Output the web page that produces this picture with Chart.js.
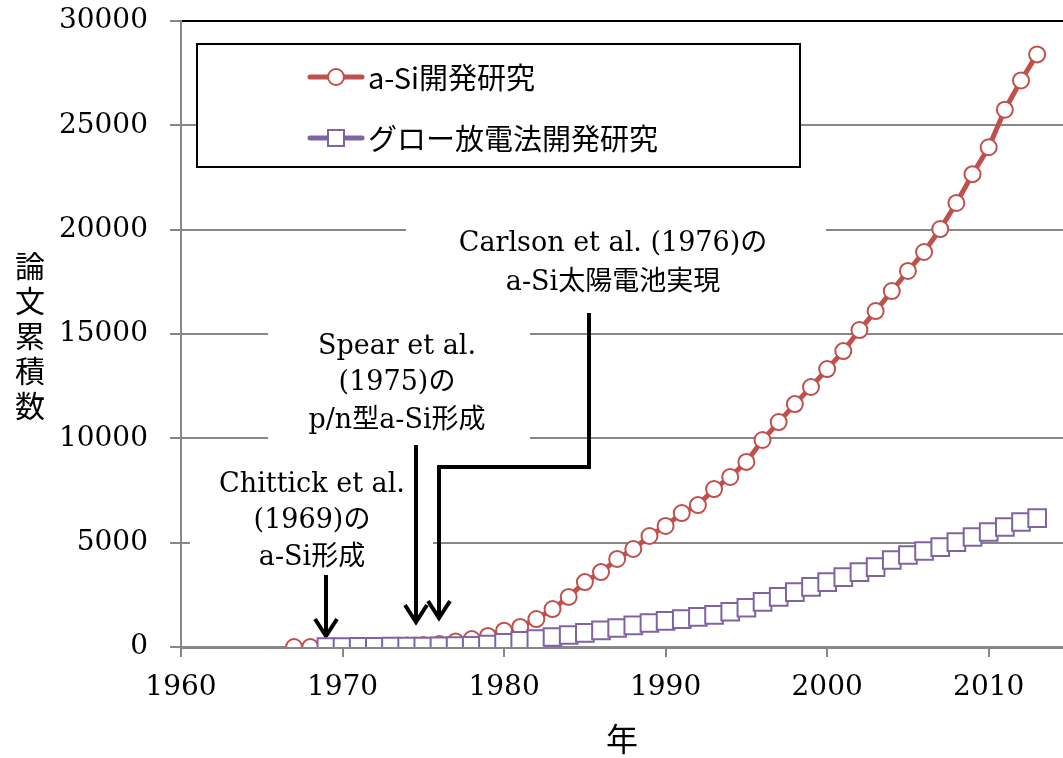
<!DOCTYPE html>
<html>
<head>
<meta charset="utf-8">
<script src="https://cdn.jsdelivr.net/npm/chart.js@4.4.0/dist/chart.umd.min.js"></script>
<style>
  body { margin: 0; background: #fff; }
  canvas { display: block; }
</style>
</head>
<body>
<canvas id="chart" width="1063" height="758"></canvas>
<script>
// 論文累積数
const aSiYears = [1967, 1968, 1969, 1970, 1971, 1972, 1973, 1974, 1975, 1976, 1977, 1978, 1979, 1980,
  1981, 1982, 1983, 1984, 1985, 1986, 1987, 1988, 1989, 1990, 1991, 1992, 1993, 1994, 1995, 1996,
  1997, 1998, 1999, 2000, 2001, 2002, 2003, 2004, 2005, 2006, 2007, 2008, 2009, 2010, 2011, 2012, 2013];
const aSiCount = [0, 0, 10, 20, 30, 40, 50, 70, 100, 140, 260, 380, 530, 780,
  960, 1340, 1820, 2400, 3110, 3590, 4220, 4700, 5320, 5800, 6420, 6800, 7570, 8150, 8870, 9920,
  10780, 11640, 12460, 13320, 14180, 15190, 16100, 17060, 18020, 18930, 20030, 21280, 22660, 23950, 25750, 27150, 28400];

const glowYears = [1969, 1970, 1971, 1972, 1973, 1974, 1975, 1976, 1977, 1978, 1979, 1980,
  1981, 1982, 1983, 1984, 1985, 1986, 1987, 1988, 1989, 1990, 1991, 1992, 1993, 1994, 1995, 1996,
  1997, 1998, 1999, 2000, 2001, 2002, 2003, 2004, 2005, 2006, 2007, 2008, 2009, 2010, 2011, 2012, 2013];
const glowCount = [0, 0, 5, 10, 15, 20, 25, 30, 40, 60, 120, 200,
  290, 380, 480, 575, 680, 800, 910, 1040, 1150, 1250, 1340, 1440, 1540, 1690, 1880, 2160,
  2400, 2630, 2880, 3110, 3350, 3590, 3830, 4170, 4410, 4600, 4790, 5030, 5270, 5510, 5750, 5990, 6180];

const seriesNames = ["a-Si開発研究", "グロー放電法開発研究"];
const seriesColors = ["#C0504D", "#8064A2"];

const RED = seriesColors[0];
const PURPLE = seriesColors[1];
const GRID = "#878787";
const SERIF = "'DejaVu Serif', 'Liberation Serif', serif";
const JP = "'Noto Sans CJK JP', sans-serif";
const JPSERIF = "'DejaVu Serif', 'Noto Sans CJK JP', serif";

function toPoints(xs, ys) {
  return xs.map((x, i) => ({ x: x, y: ys[i] }));
}

// notes with arrows, legend box and the vertical y title
const decorations = {
  id: "decorations",
  beforeDatasetsDraw(chart) {
    const ctx = chart.ctx;
    ctx.save();

    // white backgrounds behind the notes
    ctx.fillStyle = "#fff";
    ctx.fillRect(406, 215, 420, 87);
    ctx.fillRect(268, 318, 262, 124);
    ctx.fillRect(190, 462, 243, 113);

    // legend
    ctx.fillRect(197, 44, 603, 123);
    ctx.strokeStyle = "#000";
    ctx.lineWidth = 2;
    ctx.strokeRect(197, 44, 603, 123);

    const rows = [77, 138];
    rows.forEach((y, i) => {
      ctx.strokeStyle = seriesColors[i];
      ctx.lineWidth = 5;
      ctx.lineCap = "round";
      ctx.beginPath();
      ctx.moveTo(310, y);
      ctx.lineTo(362, y);
      ctx.stroke();
      ctx.fillStyle = "#fff";
      ctx.lineWidth = 2;
      ctx.beginPath();
      if (i === 0) ctx.arc(336, y, 8, 0, Math.PI * 2);
      else ctx.rect(328, y - 8, 16, 16);
      ctx.fill();
      ctx.stroke();
      ctx.fillStyle = "#000";
      ctx.font = "29px " + JP;
      ctx.textAlign = "left";
      ctx.textBaseline = "middle";
      ctx.fillText(seriesNames[i], 368, y + 1);
    });

    // arrows
    ctx.strokeStyle = "#000";
    ctx.lineWidth = 4;
    ctx.lineCap = "butt";
    ctx.lineJoin = "miter";
    const paths = [
      [[326, 575], [326, 636]],
      [[416, 445], [416, 622]],
      [[589, 313], [589, 467], [439, 467], [439, 618]]
    ];
    paths.forEach(p => {
      ctx.beginPath();
      ctx.moveTo(p[0][0], p[0][1]);
      for (let k = 1; k < p.length; k++) ctx.lineTo(p[k][0], p[k][1]);
      ctx.stroke();
      const tip = p[p.length - 1];
      ctx.beginPath();
      ctx.moveTo(tip[0] - 11, tip[1] - 17);
      ctx.lineTo(tip[0], tip[1]);
      ctx.lineTo(tip[0] + 11, tip[1] - 17);
      ctx.stroke();
    });

    // note texts
    ctx.fillStyle = "#000";
    ctx.textAlign = "center";
    ctx.textBaseline = "middle";
    ctx.font = "27px " + JPSERIF;
    const notes = [
      { x: 312, ys: [485, 521, 558], lines: ["Chittick et al.", "(1969)の", "a-Si形成"] },
      { x: 397, ys: [347, 383, 421], lines: ["Spear et al.", "(1975)の", "p/n型a-Si形成"] },
      { x: 613, ys: [244, 283], lines: ["Carlson et al. (1976)の", "a-Si太陽電池実現"] }
    ];
    notes.forEach(n => n.lines.forEach((t, k) => ctx.fillText(t, n.x, n.ys[k])));

    ctx.restore();
  },
  afterDraw(chart) {
    const ctx = chart.ctx;
    ctx.save();
    ctx.fillStyle = "#000";
    ctx.font = "30px " + JP;
    ctx.textAlign = "center";
    ctx.textBaseline = "middle";
    const title = "論文累積数";
    for (let i = 0; i < title.length; i++) {
      ctx.fillText(title[i], 30, 266 + i * 35);
    }
    ctx.restore();
  }
};

new Chart(document.getElementById("chart"), {
  type: "line",
  data: {
    datasets: [
      {
        label: seriesNames[0],
        data: toPoints(aSiYears, aSiCount),
        borderColor: RED,
        borderWidth: 5,
        pointStyle: "circle",
        pointRadius: 8,
        pointBorderWidth: 2,
        pointBackgroundColor: "#fff",
        pointBorderColor: RED,
        order: 1
      },
      {
        label: seriesNames[1],
        data: toPoints(glowYears, glowCount),
        borderColor: PURPLE,
        borderWidth: 5,
        pointStyle: "rect",
        pointRadius: 12.5,
        pointBorderWidth: 2,
        pointBackgroundColor: "#fff",
        pointBorderColor: PURPLE,
        order: 0
      }
    ]
  },
  options: {
    responsive: false,
    animation: false,
    devicePixelRatio: 1,
    layout: { autoPadding: false, padding: { top: 21, left: 0, right: 0, bottom: 0 } },
    plugins: {
      legend: { display: false },
      tooltip: { enabled: false }
    },
    scales: {
      x: {
        type: "linear",
        min: 1960,
        max: 2014.6,
        afterFit(scale) { scale.height = 111; },
        afterBuildTicks(scale) {
          scale.ticks = scale.ticks.filter(t => t.value % 10 === 0);
        },
        ticks: {
          stepSize: 10,
          includeBounds: false,
          color: "#000",
          font: { family: SERIF, size: 28 },
          padding: 14,
          maxRotation: 0,
          callback: v => String(v)
        },
        grid: {
          drawOnChartArea: false,
          drawTicks: true,
          tickLength: 10,
          color: GRID,
          lineWidth: 2
        },
        border: { color: GRID, width: 3 },
        title: {
          display: true,
          text: "年",
          color: "#000",
          font: { family: JP, size: 32 },
          padding: { top: 0, bottom: 0 }
        }
      },
      y: {
        min: 0,
        max: 30000,
        afterFit(scale) {
          scale.width = 181;
          scale.paddingTop = 0;
          scale.paddingBottom = 0;
        },
        ticks: {
          stepSize: 5000,
          color: "#000",
          font: { family: SERIF, size: 28 },
          padding: 22,
          callback: v => String(v)
        },
        grid: {
          color: c => (c.tick && c.tick.value === 30000 ? "#000" : GRID),
          lineWidth: 2,
          drawTicks: true,
          tickLength: 11,
          tickColor: GRID
        },
        border: { color: GRID, width: 2 }
      }
    }
  },
  plugins: [decorations]
});
</script>
</body>
</html>
